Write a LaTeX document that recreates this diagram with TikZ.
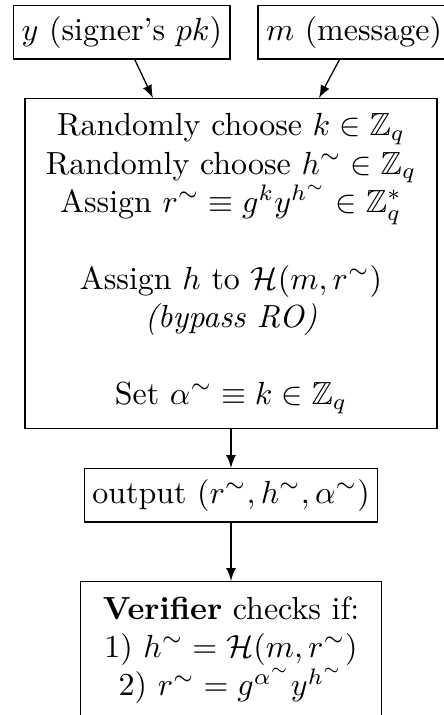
\documentclass[tikz,border=0pt]{standalone}
\usepackage{amsmath}
\usepackage{amssymb}
\usepackage{tikz}
\usetikzlibrary{arrows,shapes,positioning,calc}

\tikzset{
  blk/.style={draw, align=center, inner xsep=2.5pt},
  flow/.style={-latex}
}

\begin{document}
\begin{tikzpicture}
  \useasboundingbox (0,0) rectangle (4.866,-7.853);

  \node[blk, anchor=north west] (ypk) at (0.143,-0.055) {$y$ (signer's $pk$)};
  \node[blk, anchor=north west, minimum width=2.11cm] (msg) at (2.826,-0.055) {$m$ (message)};

  \node[blk, anchor=north, minimum width=4.525cm, minimum height=3.624cm] (sim) at (2.537,-1.076) {%
    Randomly choose $k \in \mathbb{Z}_q$\\
    Randomly choose $h^\sim \in \mathbb{Z}_q$\\
    Assign $r^\sim \equiv g^k y^{h^\sim} \in \mathbb{Z}_q^*$\\[12pt]
    Assign $h$ to $\mathcal{H}(m, r^\sim)$\\
    \textit{(bypass RO)}\\[12pt]
    Set $\alpha^\sim \equiv k \in \mathbb{Z}_q$};

  \node[blk, anchor=north, minimum width=3.13cm] (out) at (2.537,-5.140) {output $(r^\sim, h^\sim, \alpha^\sim)$};

  \node[blk, anchor=north, minimum width=3.306cm, minimum height=1.505cm] (ver) at (2.537,-6.381) {%
    \textbf{Verifier} checks if:\\
    1) $h^\sim = \mathcal{H}(m, r^\sim)$\\
    2) $r^\sim = g^{\alpha^\sim} y^{h^\sim}$};

  \draw[flow] (ypk) -- (sim);
  \draw[flow] (msg) -- (sim);
  \draw[flow] (sim) -- (out);
  \draw[flow] (out) -- (ver);
\end{tikzpicture}
\end{document}
